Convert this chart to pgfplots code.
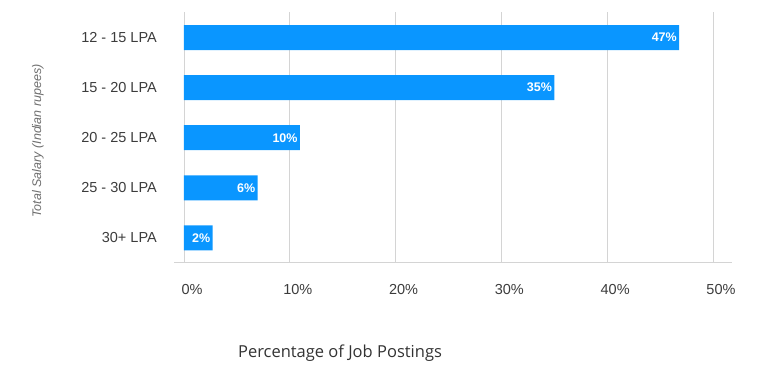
\documentclass[border=0pt]{standalone}
\usepackage{pgfplots}
\pgfplotsset{compat=1.18}
\usepackage{pgfplotstable}
\usepackage{fontspec}
\setmainfont{Liberation Sans}
\newfontfamily\opensans{Open Sans}
\definecolor{barblue}{HTML}{0A96FF}
\definecolor{gridgray}{HTML}{D4D4D4}
\definecolor{ticktext}{HTML}{3C3C3C}
\definecolor{ylabgray}{HTML}{6E6E6E}
\definecolor{xlabtext}{HTML}{333333}
\pgfplotstableread{
y len lab
4 46.8 47
3 35.0 35
2 10.95 10
1 6.95 6
0 2.7 2
}\salary
\begin{document}
\begin{tikzpicture}[x=1pt,y=1pt]
\useasboundingbox (0,0) rectangle (768,379);
\begin{axis}[
  at={(174pt,116pt)}, anchor=south west,
  scale only axis, width=558pt, height=251pt,
  xbar, bar width=25pt,
  xmin=-0.945, xmax=51.8,
  ymin=-0.5, ymax=4.51,
  ytick={0,1,2,3,4},
  yticklabels={30+ LPA, 25 - 30 LPA, 20 - 25 LPA, 15 - 20 LPA, 12 - 15 LPA},
  xtick={0,10,20,30,40,50},
  xticklabels={0\%,10\%,20\%,30\%,40\%,50\%},
  major tick length=0pt,
  axis x line*=bottom, axis y line*=left,
  x axis line style={draw=gridgray, line width=1pt, -},
  y axis line style={draw=none},
  xmajorgrids, grid style={draw=gridgray, line width=0.8pt},
  xticklabel style={font=\fontsize{14.5}{15}\selectfont, text=ticktext, inner sep=0pt, anchor=north, yshift=-21pt, xshift=8pt},
  yticklabel style={font=\fontsize{14.5}{15}\selectfont, text=ticktext, inner sep=0pt, anchor=east, xshift=-17pt},
  /pgf/number format/assume math mode=true,
  nodes near coords={\llap{\pgfmathprintnumber{\pgfplotspointmeta}\%}},
  point meta=explicit,
  every node near coord/.append style={font=\bfseries\fontsize{12.5}{13}\selectfont, text=white, inner sep=0pt, anchor=west, xshift=-3pt},
]
\addplot[fill=barblue, draw=none] table[x=len, y=y, meta=lab] {\salary};
\end{axis}
\node[rotate=90, text=ylabgray, font=\itshape\fontsize{12.5}{13}\selectfont] at (38,238) {Total Salary (Indian rupees)};
\node[text=xlabtext, font=\opensans\fontsize{16.5}{17}\selectfont] at (340,26) {Percentage of Job Postings};
\end{tikzpicture}
\end{document}
